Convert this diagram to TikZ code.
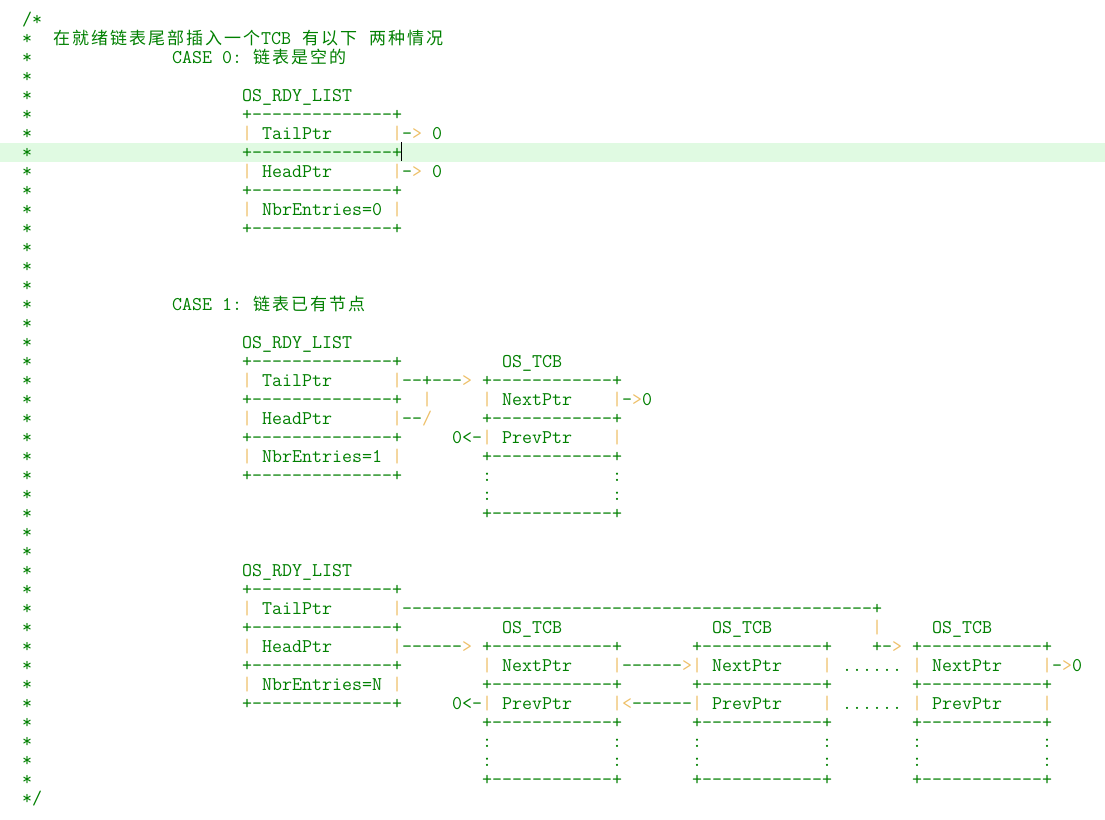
\documentclass[tikz,border=0pt]{standalone}
\usepackage{fontspec}
\usepackage{tikz}
\usetikzlibrary{positioning}
\newfontfamily\cjk{Noto Sans CJK SC}
\definecolor{codegreen}{RGB}{0,128,0}
\definecolor{barorange}{RGB}{238,192,104}
\definecolor{curline}{RGB}{224,250,226}
\newlength\codew
\setlength\codew{10pt}
% font size that gives a 10pt wide mono cell
\newlength\chw
\settowidth\chw{\fontsize{20}{20}\selectfont\ttfamily 0}
\edef\codesize{\fpeval{round(200/\chw,4)}}
\newcommand\codefont{\fontsize{\codesize}{19}\selectfont\ttfamily}
\makeatletter
\newcommand\zh[1]{{\cjk\fontsize{17}{19}\selectfont\@tfor\zhch:=#1\do{\makebox[19pt]{\zhch}}}}
\makeatother
\newcommand\vb{{\color{barorange}|}}
\newcommand\rarr{{\color{barorange}>}}
\newcommand\larr{{\color{barorange}<}}
\newcommand\fsl{{\color{barorange}/}}
\newcommand\gap[1]{\hspace*{#1\codew}}
\newcommand\dashrun[1]{\foreach\dd in {1,...,#1}{-}}
\newcommand\rdyline{+\dashrun{14}+}
\newcommand\tcbline{+\dashrun{12}+}
\tikzset{
    code/.style={anchor=base west, inner sep=0pt, text=codegreen, font=\codefont, yshift=-6.5pt},
    cursor/.style={draw=black, line width=1pt},
}

\begin{document}
\begin{tikzpicture}[x=10pt, y=-19pt]
\useasboundingbox (-2.2,-1) rectangle (108.3,42.105);
\fill[white] (-2.2,-1) rectangle (108.3,42.105);
% current line of the editor
\fill[curline] (-2.2,6.5) rectangle (108.3,7.5);
% comment frame
\node[code] (open) at (0,0) {/*};
\foreach \r in {1,...,40}
    \node[code] (star\r) at (0,\r) {*};
\node[code] (close) at (0,41) {*/};
% heading
\node[code] (intro) at (3,1) {\zh{在就绪链表尾部插入一个}TCB~\zh{有以下}~\zh{两种情况}};
% CASE 0
\node[code] (case0) at (15,2) {CASE~0:~\zh{链表是空的}};
\node[code] (rdy0) at (22,4) {OS\_RDY\_LIST};
\node[code] (rdy0a) at (22,5) {\rdyline};
\node[code] (rdy0tail) at (22,6) {\vb~TailPtr\gap{6}\vb-\rarr~0};
\node[code] (rdy0b) at (22,7) {\rdyline};
\node[code] (rdy0head) at (22,8) {\vb~HeadPtr\gap{6}\vb-\rarr~0};
\node[code] (rdy0c) at (22,9) {\rdyline};
\node[code] (rdy0nbr) at (22,10) {\vb~NbrEntries=0~\vb};
\node[code] (rdy0d) at (22,11) {\rdyline};
\draw[cursor] (37.9,6.47) -- (37.9,7.47);
% CASE 1
\node[code] (case1) at (15,15) {CASE~1:~\zh{链表已有节点}};
\node[code] (rdy1) at (22,17) {OS\_RDY\_LIST};
\node[code] (rdy1a) at (22,18) {\rdyline\gap{10}OS\_TCB};
\node[code] (rdy1tail) at (22,19) {\vb~TailPtr\gap{6}\vb\dashrun{2}+\dashrun{3}\rarr~\tcbline};
\node[code] (rdy1b) at (22,20) {\rdyline\gap{2}\vb\gap{5}\vb~NextPtr\gap{4}\vb-\rarr0};
\node[code] (rdy1head) at (22,21) {\vb~HeadPtr\gap{6}\vb\dashrun{2}\fsl\gap{5}\tcbline};
\node[code] (rdy1c) at (22,22) {\rdyline\gap{5}0<-\vb~PrevPtr\gap{4}\vb};
\node[code] (rdy1nbr) at (22,23) {\vb~NbrEntries=1~\vb\gap{8}\tcbline};
\node[code] (rdy1d) at (22,24) {\rdyline\gap{8}:\gap{12}:};
\node[code] (tcb1e) at (46,25) {:\gap{12}:};
\node[code] (tcb1f) at (46,26) {\tcbline};
% CASE N
\node[code] (rdyn) at (22,29) {OS\_RDY\_LIST};
\node[code] (rdyna) at (22,30) {\rdyline};
\node[code] (rdyntail) at (22,31) {\vb~TailPtr\gap{6}\vb\dashrun{47}+};
\node[code] (rdynb) at (22,32) {\rdyline\gap{10}OS\_TCB\gap{15}OS\_TCB\gap{10}\vb\gap{5}OS\_TCB};
\node[code] (rdynhead) at (22,33) {\vb~HeadPtr\gap{6}\vb\dashrun{6}\rarr~\tcbline\gap{7}\tcbline\gap{4}+-\rarr~\tcbline};
\node[code] (rdync) at (22,34) {\rdyline\gap{8}\vb~NextPtr\gap{4}\vb\dashrun{6}\rarr\vb~NextPtr\gap{4}\vb~......~\vb~NextPtr\gap{4}\vb-\rarr0};
\node[code] (rdynnbr) at (22,35) {\vb~NbrEntries=N~\vb\gap{8}\tcbline\gap{7}\tcbline\gap{8}\tcbline};
\node[code] (rdynd) at (22,36) {\rdyline\gap{5}0<-\vb~PrevPtr\gap{4}\vb\larr\dashrun{6}\vb~PrevPtr\gap{4}\vb~......~\vb~PrevPtr\gap{4}\vb};
\node[code] (tcbne) at (46,37) {\tcbline\gap{7}\tcbline\gap{8}\tcbline};
\node[code] (tcbnf) at (46,38) {:\gap{12}:\gap{7}:\gap{12}:\gap{8}:\gap{12}:};
\node[code] (tcbng) at (46,39) {:\gap{12}:\gap{7}:\gap{12}:\gap{8}:\gap{12}:};
\node[code] (tcbnh) at (46,40) {\tcbline\gap{7}\tcbline\gap{8}\tcbline};
\end{tikzpicture}
\end{document}
